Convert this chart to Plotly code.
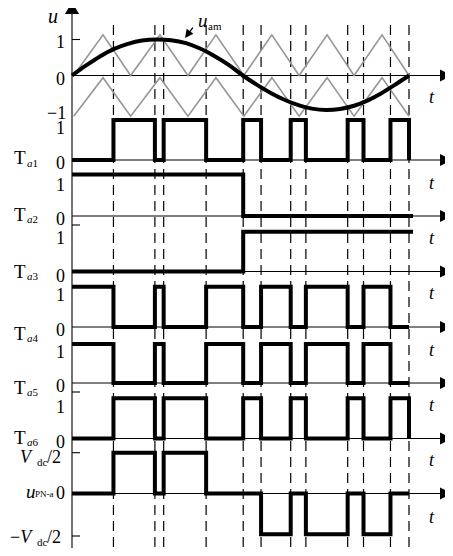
import plotly.graph_objects as go

# ---------------- data ----------------
# switching instants (fraction of one fundamental period)
t_switch = [0.0, 0.123, 0.246, 0.272, 0.398, 0.508, 0.561, 0.649, 0.694, 0.818, 0.865, 0.945, 1.0]
Ta1 = [0, 1, 0, 1, 0, 1, 0, 1, 0, 1, 0, 1, 0]
Ta4 = [1, 0, 1, 0, 1, 0, 1, 0, 1, 0, 1, 0, 0]
Ta5 = [1, 0, 1, 0, 1, 0, 1, 0, 1, 0, 1, 0, 0]
Ta6 = [0, 1, 0, 1, 0, 1, 0, 1, 0, 1, 0, 1, 0]
uPN = [0, 1, 0, 1, 0, 0, -1, 0, -1, 0, -1, 0, 0]

t_half = [0.0, 0.508, 1.012]
Ta2 = [1, 0, 0]
Ta3 = [0, 1, 1]

# carriers (triangle vertices)
carrier_t = [0.005, 0.092, 0.174, 0.261, 0.344, 0.427, 0.510, 0.593, 0.674, 0.757, 0.837, 0.920, 1.0]
carrier_upper = [0, 1.13, 0, 1.13, 0, 1.13, 0, 1.13, 0, 1.13, 0, 1.13, 0]
carrier_lower = [-1.13, -0.06, -1.13, -0.06, -1.13, -0.06, -1.13, -0.06, -1.13, -0.06, -1.13, -0.06, -1.13]

# modulating wave u_am
sine_t = [0.0, 0.042, 0.083, 0.125, 0.166, 0.208, 0.252, 0.294, 0.338, 0.380, 0.421, 0.466, 0.507,
          0.549, 0.591, 0.632, 0.674, 0.712, 0.754, 0.795, 0.837, 0.878, 0.917, 0.958, 1.0]
sine_u = [0.0, 0.28, 0.53, 0.74, 0.88, 0.97, 1.0, 0.98, 0.90, 0.75, 0.55, 0.29, 0.0,
          -0.26, -0.49, -0.68, -0.83, -0.92, -0.96, -0.93, -0.84, -0.69, -0.50, -0.26, 0.0]

panel_subs = ["1", "2", "3", "4", "5", "6"]
top_ticks = ["1", "0", "\u22121"]

# ---------------- layout constants ----------------
OFF = 8                      # page margin of the html body
PW, PH = 453, 556            # page size
W, H = PW - OFF, PH - OFF    # figure size
X0_PX, PX_PER_T = 72, 337
FONT = "Liberation Serif, Times New Roman, serif"
GRAY = "rgb(150,150,150)"


def px_x(px):
    return (px - OFF) / W


def px_y(py):
    return 1 - (py - OFF) / H


def t_of(px):
    return (px - X0_PX) / PX_PER_T


# page pixel rows of value 0 and value 1 for every panel
panel_levels = [(75.5, 39.5), (160, 120), (216, 174.5), (271.5, 231.7),
                (327, 286.7), (383, 344), (438.5, 398.3), (493.5, 452.7)]
yrefs = ["y"] + [f"y{i}" for i in range(2, 9)]

fig = go.Figure()

layout_axes = {}
for i, (p0, p1) in enumerate(panel_levels):
    f0, f1 = px_y(p0), px_y(p1)
    span = 1 / (f1 - f0)
    r0 = -f0 * span
    ax = dict(range=[r0, r0 + span], domain=[0, 1], visible=False, fixedrange=True)
    if i > 0:
        ax["overlaying"] = "y"
        ax["anchor"] = "x"
    layout_axes["yaxis" if i == 0 else f"yaxis{i + 1}"] = ax

# carriers and modulating wave
fig.add_trace(go.Scatter(x=carrier_t, y=carrier_upper, mode="lines",
                         line=dict(color=GRAY, width=1.6), yaxis="y", hoverinfo="skip"))
fig.add_trace(go.Scatter(x=carrier_t, y=carrier_lower, mode="lines",
                         line=dict(color=GRAY, width=1.6), yaxis="y", hoverinfo="skip"))
fig.add_trace(go.Scatter(x=sine_t, y=sine_u, mode="lines",
                         line=dict(color="black", width=4, shape="spline", smoothing=1.0),
                         yaxis="y", hoverinfo="skip"))

# switching signals
signals = [(t_switch, Ta1, "y2"), (t_half, Ta2, "y3"), (t_half, Ta3, "y4"),
           (t_switch, Ta4, "y5"), (t_switch, Ta5, "y6"), (t_switch, Ta6, "y7"),
           (t_switch, uPN, "y8")]
for xs, ys, yr in signals:
    fig.add_trace(go.Scatter(x=xs, y=ys, mode="lines",
                             line=dict(color="black", width=4, shape="hv"),
                             yaxis=yr, hoverinfo="skip"))

shapes = []
# dashed switching lines
for ts in t_switch[1:]:
    shapes.append(dict(type="line", xref="x", yref="paper", x0=ts, x1=ts,
                       y0=px_y(25), y1=px_y(550), layer="below",
                       line=dict(color="black", width=1.2, dash="10px,6px")))

# horizontal time axes with arrows
t_tip = t_of(452)
for yr in yrefs:
    shapes.append(dict(type="line", xref="x", yref=yr, x0=0, x1=t_of(444), y0=0, y1=0,
                       layer="below", line=dict(color="black", width=1.1)))
    shapes.append(dict(type="path", xref="x", yref=yr, xsizemode="pixel", ysizemode="pixel",
                       xanchor=t_tip, yanchor=0, path="M0,0 L-12,6 L-12,-6 Z",
                       fillcolor="black", line=dict(width=0)))

# vertical axis with arrow
shapes.append(dict(type="line", xref="x", yref="paper", x0=0, x1=0,
                   y0=px_y(548), y1=px_y(12), line=dict(color="black", width=1.1)))
shapes.append(dict(type="path", xref="x", yref="paper", xsizemode="pixel", ysizemode="pixel",
                   xanchor=0, yanchor=px_y(2), path="M0,0 L-7,-12 L7,-12 Z",
                   fillcolor="black", line=dict(width=0)))

# small tick marks on the vertical axis
for py in [39.5, 225, 392, 452.7, 536]:
    shapes.append(dict(type="line", xref="x", yref="paper", xsizemode="pixel", xanchor=0,
                       x0=0, x1=8, y0=px_y(py), y1=px_y(py),
                       line=dict(color="black", width=1.1)))

annotations = []


def label(text, x, y, size=18, xanchor="center"):
    annotations.append(dict(text=text, x=px_x(x), y=px_y(y), xref="paper", yref="paper",
                            showarrow=False, xanchor=xanchor, yanchor="middle",
                            font=dict(family=FONT, size=size, color="black")))


# top panel labels
label("<i>u</i>", 53, 16, 20)
for txt, (x, y) in zip(top_ticks, [(60, 42), (60, 79), (56, 113)]):
    label(txt, x, y, 18)

# T panels
one_y = [128, 185, 238, 295, 352, 407]
zero_y = [163, 219, 276, 330, 386, 442]
name_y = [158, 214, 271, 333, 387, 437]
for sub, y1, y0, yn in zip(panel_subs, one_y, zero_y, name_y):
    label("1", 60, y1, 18)
    label("0", 60, y0, 18)
    label("T", 12, yn, 19, xanchor="left")
    label("<i>a</i>" + sub, 25, yn + 5, 11, xanchor="left")

# u_PN-a panel
for yc, minus in [(457, ""), (537, "\u2212")]:
    label(minus + "<i>V</i>", 35, yc, 18, xanchor="right")
    label("dc", 35, yc + 5, 11, xanchor="left")
    label("/2", 63, yc, 18, xanchor="right")
label("0", 60, 493, 18)
label("<i>u</i>", 24, 491, 19, xanchor="left")
label("PN-a", 33, 494, 9, xanchor="left")

# t labels
for y in [97, 183, 238, 293, 350, 405, 460, 517]:
    label("<i>t</i>", 432, y, 18)

# u_am label + arrow
label("<i>u</i>", 196, 21, 19, xanchor="left")
label("am", 206, 26, 11, xanchor="left")
annotations.append(dict(text="", x=t_of(185), y=1.04, xref="x", yref="y",
                        ax=9, ay=-12, showarrow=True, arrowhead=2, arrowsize=1.2,
                        arrowwidth=1.4, arrowcolor="black", standoff=0))

fig.update_layout(
    width=W, height=H,
    margin=dict(l=0, r=0, t=0, b=0),
    paper_bgcolor="white", plot_bgcolor="white",
    showlegend=False,
    xaxis=dict(range=[t_of(OFF), t_of(PW)], domain=[0, 1], visible=False, fixedrange=True),
    shapes=shapes, annotations=annotations,
    **layout_axes,
)

fig.write_html("out.html")
